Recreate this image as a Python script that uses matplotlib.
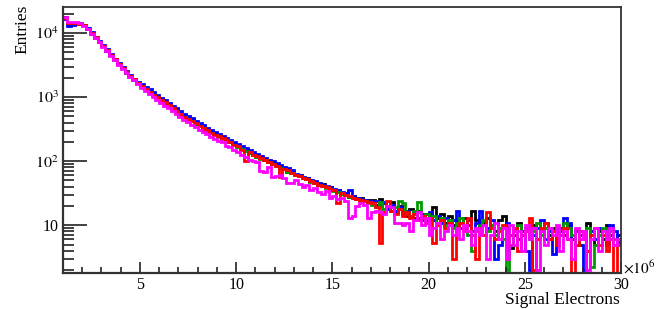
import numpy as np
import matplotlib
matplotlib.use("Agg")
import matplotlib.pyplot as plt
from matplotlib.ticker import FuncFormatter, MultipleLocator, LogLocator, NullFormatter

plt.rcParams['font.family'] = ['Liberation Serif', 'DejaVu Serif']
plt.rcParams['mathtext.fontset'] = 'stix'

# Bin edges: 1.0 .. 30.0 (x 10^6) in steps of 0.2
bin_lo = 1.0
bin_hi = 30.0
n_bins = 145

black = [17500, 14000, 14300, 14200, 13900, 13200, 11700, 9900, 8500, 7300, 6200, 5300, 4500, 3800, 3250, 2800, 2400, 2100, 1870, 1680,
         1480, 1360, 1190, 1110, 980, 920, 810, 760, 665, 620, 535, 515, 450, 440, 385, 368, 322, 312, 276, 270,
         248, 232, 212, 200, 186, 172, 156, 150, 136, 131, 118, 114, 103, 100, 90, 88, 79, 78, 69, 68,
         61, 60, 54, 55, 49, 48, 43, 44, 39, 39, 35, 35, 31, 32, 28, 29, 26, 27, 24, 25,
         25, 21, 26, 22, 19, 23, 16, 20, 17, 14, 18, 13, 17, 12, 15,
         14, 19, 13, 15, 11, 14, 10, 12, 9, 13, 10, 17, 12, 9, 11,
         13, 10, 8, 12, 14, 9, 4.5, 7, 11, 8, 9, 7, 10, 6, 8,
         11, 7, 9, 6, 8, 7, 10, 6, 8, 7, 6, 11, 7, 5, 8,
         6, 10, 7, 5, 7]

blue = [16500, 13000, 13500, 14000, 14100, 13400, 12000, 10300, 8800, 7600, 6500, 5600, 4750, 4000, 3400, 2950, 2520, 2200, 1950, 1740,
        1600, 1450, 1320, 1190, 1080, 985, 900, 815, 740, 665, 600, 550, 505, 465, 430, 392, 362, 335, 310, 288,
        268, 250, 232, 216, 200, 186, 172, 160, 150, 138, 130, 121, 113, 106, 99, 94, 87, 82, 77, 73,
        64, 61, 57, 55, 51, 49, 45, 43, 41, 39, 37, 35, 33, 32, 36, 29, 27, 26, 25, 24,
        22, 24, 20, 23, 18, 21, 17, 19, 15, 17, 14, 16, 13, 15, 12,
        16, 12, 14, 11, 13, 10, 12, 17, 11, 9, 12, 8, 11, 17, 10,
        9, 12, 3, 5, 9, 11, 7, 9, 6, 8, 4, 2, 7, 9, 12,
        6, 8, 3.5, 7, 9, 13, 11, 6, 8, 5, 2, 4, 8, 6, 9,
        7, 5, 10, 8, 5.5]

green = [17000, 14200, 14300, 14400, 14000, 13200, 11600, 9800, 8500, 7300, 6250, 5350, 4550, 3850, 3280, 2820, 2430, 2120, 1880, 1680,
         1470, 1320, 1200, 1080, 980, 890, 810, 730, 660, 595, 535, 490, 450, 418, 385, 350, 325, 300, 278, 258,
         240, 226, 208, 196, 180, 168, 155, 146, 135, 127, 118, 109, 103, 96, 90, 84, 78, 75, 69, 66,
         61, 58, 54, 52, 48, 46, 43, 41, 38, 37, 34, 33, 31, 30, 28, 27, 26, 24, 24, 22,
         21, 19, 23, 18, 20, 17, 19, 24, 22, 15, 14, 17, 23, 13, 15,
         12, 14, 11, 13, 10, 12, 9, 11, 13, 9, 7, 4, 8, 10, 12,
         8, 10, 7, 9, 6, 2, 5, 8, 10, 7, 9, 6, 8, 11, 7,
         9, 6, 8, 5, 7, 11, 9, 7, 5, 8, 6, 9, 2.2, 5, 7,
         9, 6, 8, 6, 6]

red = [17200, 14100, 14200, 14300, 14000, 13300, 11700, 9900, 8550, 7350, 6280, 5380, 4580, 3880, 3290, 2840, 2440, 2140, 1890, 1690,
       1490, 1340, 1210, 1095, 995, 905, 825, 745, 670, 605, 545, 498, 458, 423, 390, 356, 328, 302, 280, 260,
       243, 227, 212, 196, 182, 170, 150, 100, 137, 125, 119, 111, 103, 97, 90, 85, 56, 75, 72, 66,
       62, 58, 55, 52, 49, 46, 43, 41, 39, 37, 35, 22, 32, 30, 29, 27, 26, 25, 24, 23,
       22, 19, 5.2, 16, 24, 17, 15, 18, 14, 16, 13, 15, 12, 14, 11,
       13, 5.2, 10, 12, 9, 11, 3, 9, 11, 8, 13, 7, 3, 9, 7,
       16, 9, 6, 8, 10, 5, 7, 9, 4, 7, 8, 13, 2, 6, 9,
       11, 6, 8, 5, 7, 9, 6, 1.8, 5, 8, 6, 4, 7, 9, 5,
       7, 4, 6, 1.8, 5]

magenta = [18000, 14800, 14800, 14700, 14200, 13100, 11500, 9700, 8300, 7150, 6100, 5200, 4400, 3750, 3180, 2740, 2360, 2060, 1820, 1620,
           1380, 1230, 1110, 990, 900, 815, 735, 665, 600, 540, 485, 442, 405, 372, 340, 310, 285, 262, 242, 225,
           210, 196, 175, 165, 150, 140, 127, 118, 105, 100, 98, 70, 68, 80, 56, 58, 62, 55, 45, 46,
           50, 44, 40, 42, 36, 38, 33, 31, 34, 27, 29, 26, 27, 24, 13, 14, 20, 22, 21, 13,
           16, 17, 16, 15, 20, 19, 11, 11, 10, 11, 8, 12, 16, 10, 13,
           7, 9, 11, 6, 8, 10, 7, 9, 6, 10, 8, 5, 9, 7, 10,
           3, 7, 11, 6, 9, 3, 10, 5, 8, 4, 10, 6, 9, 2, 8,
           5, 9, 7, 10, 4, 8, 6, 3, 9, 6, 8, 2, 6, 9, 4,
           8, 6, 9, 5, 6]

series = [
    (black, '#000000'),
    (blue, '#0000ff'),
    (green, '#009a00'),
    (red, '#ff0000'),
    (magenta, '#ff00ff'),
]

edges = np.linspace(bin_lo, bin_hi, n_bins + 1)

fig = plt.figure(figsize=(6.64, 3.09), dpi=100)
ax = fig.add_axes([63/664, 1 - 273/309, (621 - 63)/664, (273 - 7)/309])

for vals, col in series:
    ax.stairs(vals, edges, color=col, linewidth=2.0, baseline=None)

ax.set_yscale('log')
ax.set_xlim(1.0, 30.0)
ax.set_ylim(1.8, 2.55e4)

ax.xaxis.set_major_locator(MultipleLocator(5))
ax.xaxis.set_minor_locator(MultipleLocator(1))
ax.yaxis.set_major_locator(LogLocator(base=10, numticks=10))
ax.yaxis.set_minor_locator(LogLocator(base=10, subs=np.arange(2, 10), numticks=20))
ax.yaxis.set_minor_formatter(NullFormatter())

def yfmt(v, pos):
    e = int(round(np.log10(v)))
    if e == 1:
        return '10'
    if e == 0:
        return '1'
    return r'$10^{%d}$' % e

ax.yaxis.set_major_formatter(FuncFormatter(yfmt))
ax.xaxis.set_major_formatter(FuncFormatter(lambda v, p: '%d' % v))

ax.tick_params(axis='both', which='both', direction='in', top=False, right=False, colors='#222222', labelsize=11.5, width=1.2)
ax.tick_params(axis='y', which='major', length=17, pad=3)
ax.tick_params(axis='y', which='minor', length=8)
ax.tick_params(axis='x', which='major', length=8, pad=3)
ax.tick_params(axis='x', which='minor', length=4)
for lab in ax.get_xticklabels() + ax.get_yticklabels():
    lab.set_color('black')

for s in ax.spines.values():
    s.set_linewidth(1.3)
    s.set_color('#333333')
ax.spines['left'].set_linewidth(1.6)
ax.spines['bottom'].set_linewidth(1.6)

fig.text(22/664, 1 - 5/309, 'Entries', rotation=90, ha='center', va='top', fontsize=12.5)
fig.text(620/664, 1 - 300/309, 'Signal Electrons', ha='right', va='center', fontsize=12.5)
fig.text(623/664, 1 - 268/309, r'$\times10^{6}$', ha='left', va='center', fontsize=11)

fig.savefig('out.png', dpi=100)
